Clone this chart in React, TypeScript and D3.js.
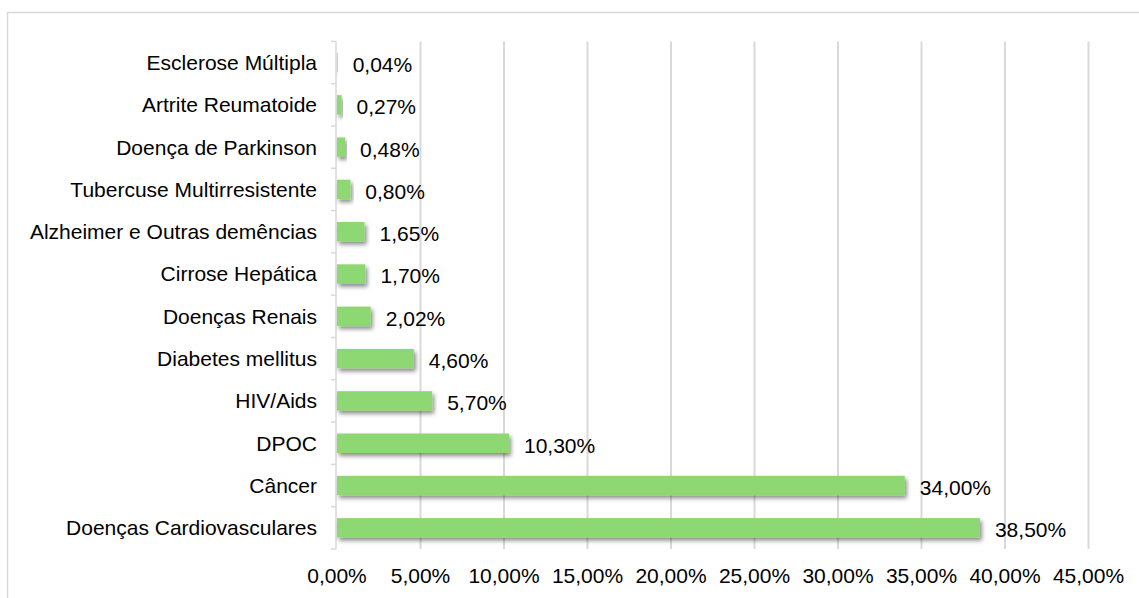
import React from "react";
import * as d3 from "d3";

const categories = [
  "Esclerose Múltipla",
  "Artrite Reumatoide",
  "Doença de Parkinson",
  "Tubercuse Multirresistente",
  "Alzheimer e Outras demências",
  "Cirrose Hepática",
  "Doenças Renais",
  "Diabetes mellitus",
  "HIV/Aids",
  "DPOC",
  "Câncer",
  "Doenças Cardiovasculares",
];
const values = [0.04, 0.27, 0.48, 0.8, 1.65, 1.7, 2.02, 4.6, 5.7, 10.3, 34.0, 38.5];
const xTicks = [0, 5, 10, 15, 20, 25, 30, 35, 40, 45];

const W = 1139;
const H = 598;
const FONT = "'Liberation Sans', Arial, sans-serif";
const FS = 21;

const fmt = (v: number) => d3.format(".2f")(v).replace(".", ",") + "%";

export default function App() {
  const x = d3.scaleLinear().domain([0, 45]).range([337, 1088.5]);
  const y = d3
    .scaleBand<string>()
    .domain(categories)
    .range([41.4, 549])
    .paddingInner(0.54)
    .paddingOuter(0.27);
  const step = y.step();
  const top = 41.4;
  const bottom = 549;

  return (
    <svg
      width={W}
      height={H}
      style={{ position: "absolute", left: 0, top: 0, background: "#fff" }}
      fontFamily={FONT}
    >
      <defs>
        <filter id="shadow" x="-10%" y="-50%" width="130%" height="250%">
          <feDropShadow dx="2" dy="3" stdDeviation="2" floodColor="#000" floodOpacity="0.45" />
        </filter>
      </defs>
      <rect x={7.5} y={12.5} width={1140} height={600} fill="#fff" stroke="#d9d9d9" strokeWidth={1.5} />
      {xTicks.slice(1).map((t) => (
        <line key={"g" + t} x1={x(t)} x2={x(t)} y1={top} y2={bottom} stroke="#d9d9d9" strokeWidth={2} />
      ))}
      <line x1={336} x2={336} y1={top} y2={bottom} stroke="#d9d9d9" strokeWidth={1.5} />
      {d3.range(categories.length + 1).map((i) => (
        <line
          key={"t" + i}
          x1={331}
          x2={336}
          y1={top + i * step}
          y2={top + i * step}
          stroke="#d9d9d9"
          strokeWidth={1.5}
        />
      ))}
      {categories.map((c, i) => (
        <rect
          key={"b" + c}
          x={x(0)}
          y={y(c)!}
          width={Math.max(0, x(values[i]) - x(0))}
          height={y.bandwidth()}
          fill="#8ed873"
          filter="url(#shadow)"
        />
      ))}
      {categories.map((c, i) => (
        <text
          key={"l" + c}
          x={317}
          y={y(c)! + y.bandwidth() / 2}
          dy="0.35em"
          textAnchor="end"
          fontSize={FS}
          fill="#000"
        >
          {c}
        </text>
      ))}
      {categories.map((c, i) => (
        <text
          key={"v" + c}
          x={x(values[i]) + 15}
          y={y(c)! + y.bandwidth() / 2 + 2}
          dy="0.35em"
          textAnchor="start"
          fontSize={FS}
          fill="#000"
        >
          {fmt(values[i])}
        </text>
      ))}
      {xTicks.map((t) => (
        <text key={"x" + t} x={x(t)} y={583} textAnchor="middle" fontSize={FS} fill="#000">
          {fmt(t)}
        </text>
      ))}
    </svg>
  );
}
